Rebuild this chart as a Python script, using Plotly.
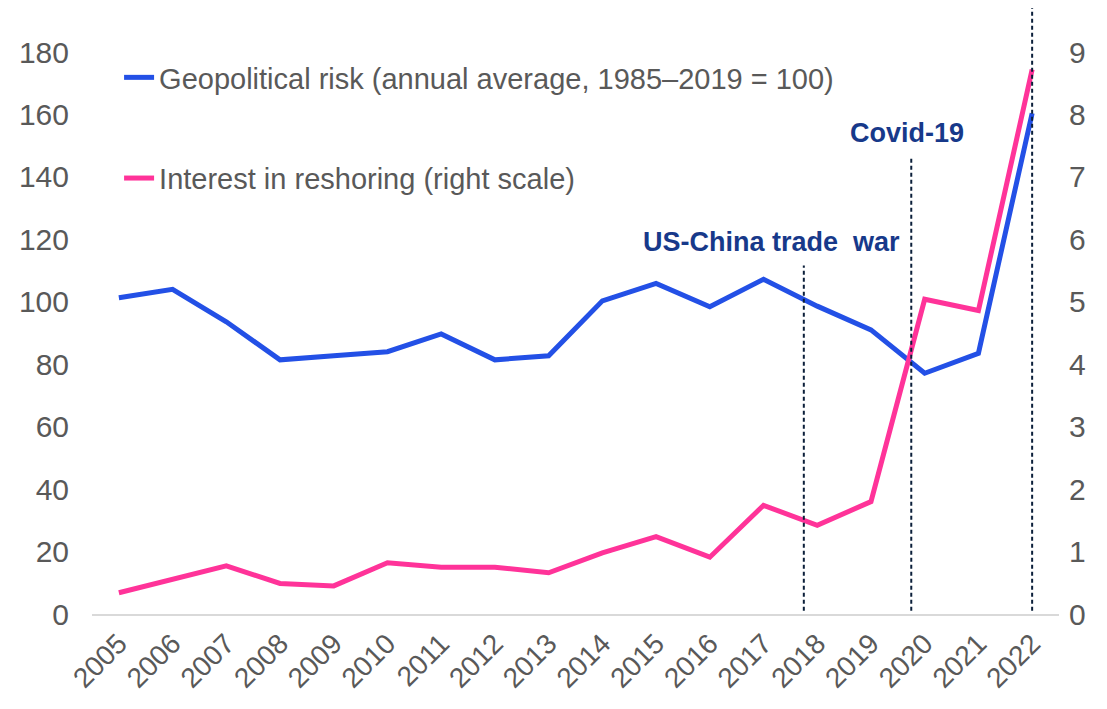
import plotly.graph_objects as go

years = list(range(2005, 2023))
geo_risk = [101.3, 104.0, 93.6, 81.4, 82.7, 84.0, 89.7, 81.4, 82.7, 100.3,
            105.9, 98.4, 107.2, 98.6, 91.0, 77.1, 83.5, 160.4]
reshoring = [0.34, 0.55, 0.77, 0.49, 0.45, 0.82, 0.75, 0.75, 0.66, 0.98,
             1.24, 0.91, 1.74, 1.42, 1.80, 5.04, 4.86, 8.72]

# event markers (x position, top of dashed line in paper units, label)
event_x = [2017.75, 2019.75, 2022.0]
event_top = [0.62, 0.81, 1.08]
event_labels = ["US-China trade\u00a0 war", "Covid-19"]
label_x = [2017.15, 2019.67]
label_y = [119, 154]

grey = "#595959"
blue = "#2350e6"
pink = "#ff3399"
navy = "#17398a"

fig = go.Figure()
fig.add_trace(go.Scatter(
    x=years, y=geo_risk, mode="lines",
    name="Geopolitical risk (annual average, 1985–2019 = 100)",
    line=dict(color=blue, width=5), legendgroup="a"))
fig.add_trace(go.Scatter(
    x=years, y=reshoring, mode="lines", yaxis="y2",
    name="Interest in reshoring (right scale)",
    line=dict(color=pink, width=5), legendgroup="b"))

for x, top in zip(event_x, event_top):
    fig.add_shape(type="line", xref="x", yref="paper", x0=x, x1=x,
                  y0=0.006, y1=top,
                  line=dict(color="#0b1f3a", width=2, dash="4px,3px"))

for lx, ly, txt in zip(label_x, label_y, event_labels):
    fig.add_annotation(x=lx, y=ly, xref="x", yref="y", text="<b>%s</b>" % txt,
                       showarrow=False, font=dict(size=27, color=navy))

# page has an 8px body margin, so margins are shifted to compensate
fig.update_layout(
    width=1107, height=709,
    margin=dict(l=84, r=56, t=44, b=103),
    plot_bgcolor="white", paper_bgcolor="white",
    font=dict(family="Liberation Sans, Arial", size=30, color=grey),
    showlegend=True,
    legend=dict(x=0.028, y=1.0, xanchor="left", yanchor="top",
                traceorder="grouped", tracegroupgap=60,
                font=dict(size=29, color=grey), bgcolor="rgba(0,0,0,0)"),
    xaxis=dict(range=[2004.5, 2022.5], tickvals=years, ticktext=[str(y) for y in years],
               tickangle=-45, showgrid=False, zeroline=False,
               showline=True, linecolor="#d9d9d9", linewidth=2, ticks="",
               tickfont=dict(size=28)),
    yaxis=dict(range=[0, 180], dtick=20, showgrid=False, zeroline=False,
               ticks="", ticklabelstandoff=22),
    yaxis2=dict(range=[0, 9], dtick=1, overlaying="y", side="right",
                showgrid=False, zeroline=False, ticks="", ticklabelstandoff=9),
)

fig.write_html("out.html")
